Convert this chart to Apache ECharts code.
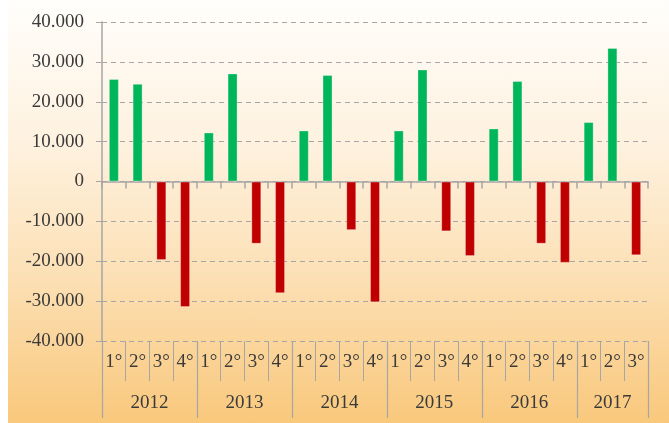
<!DOCTYPE html>
<html>
<head>
<meta charset="utf-8">
<script src="https://cdn.jsdelivr.net/npm/echarts@6/dist/echarts.min.js"></script>
<style>
html,body{margin:0;padding:0;background:#fff;}
#wrap{position:absolute;left:8px;top:0;width:661px;height:423px;
background:linear-gradient(to bottom,#FFFEFB 0%,#FEF1DE 35%,#FCE0B5 65%,#F9C87C 100%);}
#chart{width:661px;height:423px;}
</style>
</head>
<body>
<div id="wrap"><div id="chart"></div></div>
<script>
var quarters = ['1°','2°','3°','4°','1°','2°','3°','4°','1°','2°','3°','4°','1°','2°','3°','4°','1°','2°','3°','4°','1°','2°','3°'];
var years = ['2012','2013','2014','2015','2016','2017'];
var yearQuarterCounts = [4,4,4,4,4,3];
var values = [25700,24500,-19700,-31500,12300,27100,-15600,-28000,12800,26700,-12200,-30300,12800,28100,-12500,-18700,13300,25200,-15600,-20400,14900,33500,-18500];
var yTicks = [-40000,-30000,-20000,-10000,0,10000,20000,30000,40000];

var yearBounds = [0], yearCenters = [];
var acc = 0;
yearQuarterCounts.forEach(function(c){ yearCenters.push(acc + c/2); acc += c; yearBounds.push(acc); });

var gray = '#A6A6A6';
var txt = '#3a3a3a';
var font = '"Liberation Serif", serif';

function fmt(v){
  if (v === 0) return '0';
  var s = Math.abs(v).toString().replace(/\B(?=(\d{3})+(?!\d))/g,'.');
  return (v<0?'-':'') + s;
}

var chart = echarts.init(document.getElementById('chart'), null, {renderer:'canvas'});
chart.setOption({
  backgroundColor: 'transparent',
  animation: false,
  grid: {left:94, right:21, top:22, bottom:82, containLabel:false},
  xAxis: [
    {
      type:'category', data: quarters, position:'bottom', gridIndex:0,
      axisLine:{onZero:true, lineStyle:{color:gray, width:1.5}},
      axisTick:{show:true, interval:0, length:7, lineStyle:{color:gray, width:1.5}},
      axisLabel:{show:false}, splitLine:{show:false}
    },
    {
      type:'category', data: quarters, position:'bottom', gridIndex:0,
      axisLine:{show:false, onZero:false},
      axisTick:{show:true, interval:0, length:40, lineStyle:{color:gray, width:1}},
      axisLabel:{show:true, interval:0, margin:12, color:txt, fontFamily:font, fontSize:19},
      splitLine:{show:false}
    },
    {
      type:'value', min:0, max:quarters.length, position:'bottom', gridIndex:0,
      axisLine:{show:false, onZero:false},
      axisTick:{show:true, length:77, customValues: yearBounds, lineStyle:{color:gray, width:1.2}},
      axisLabel:{show:true, margin:53, color:txt, fontFamily:font, fontSize:19,
        customValues: yearCenters,
        formatter:function(v){ var i = yearCenters.indexOf(v); return i>=0 ? years[i] : ''; }},
      splitLine:{show:false}
    }
  ],
  yAxis: {
    type:'value', min:yTicks[0], max:yTicks[yTicks.length-1], interval:10000,
    axisLine:{show:true, onZero:false, lineStyle:{color:gray, width:1.5}},
    axisTick:{show:true, length:6, lineStyle:{color:gray}},
    axisLabel:{margin:18, color:txt, fontFamily:font, fontSize:19, formatter:fmt},
    splitLine:{show:true, lineStyle:{color:gray, type:[5,4], width:1.2}}
  },
  series: [{
    type:'bar', xAxisIndex:0, data: values, barWidth:10,
    itemStyle:{
      color:function(p){ return p.value >= 0 ? '#00B65A' : '#C00000'; },
      borderColor:'rgba(255,255,255,0.3)',
      borderWidth:1
    }
  }]
});
</script>
</body>
</html>
